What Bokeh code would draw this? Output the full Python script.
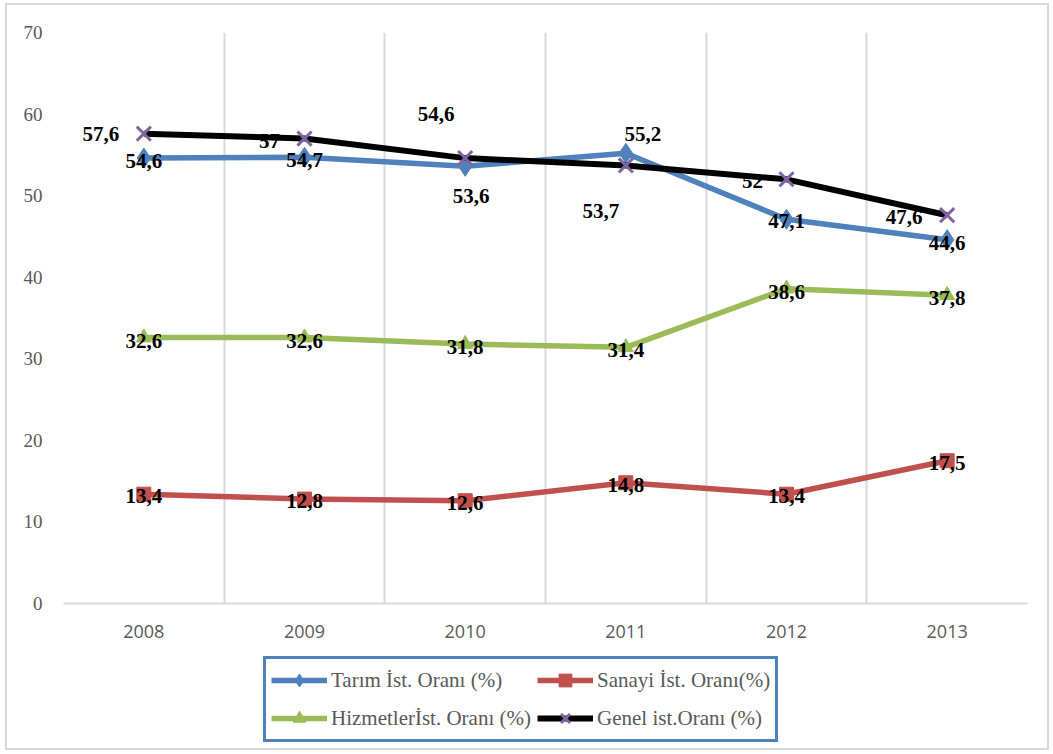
from bokeh.plotting import figure
from bokeh.layouts import column
from bokeh.models import (ColumnDataSource, FixedTicker, Legend, LegendItem, Range1d)
from bokeh.core.properties import value
from bokeh.embed import file_html
from bokeh.resources import INLINE

# ---- data ----
years = ["2008", "2009", "2010", "2011", "2012", "2013"]
tarim = [54.6, 54.7, 53.6, 55.2, 47.1, 44.6]
sanayi = [13.4, 12.8, 12.6, 14.8, 13.4, 17.5]
hizmet = [32.6, 32.6, 31.8, 31.4, 38.6, 37.8]
genel = [57.6, 57.0, 54.6, 53.7, 52.0, 47.6]
labels_text = {
    "tarim": ["54,6", "54,7", "53,6", "55,2", "47,1", "44,6"],
    "sanayi": ["13,4", "12,8", "12,6", "14,8", "13,4", "17,5"],
    "hizmet": ["32,6", "32,6", "31,8", "31,4", "38,6", "37,8"],
    "genel": ["57,6", "57", "54,6", "53,7", "52", "47,6"],
}
series_names = ["Tarım İst. Oranı (%)", "Sanayi İst. Oranı(%)",
                "Hizmetlerİst. Oranı (%)", "Genel ist.Oranı (%)"]
y_ticks = [0, 10, 20, 30, 40, 50, 60, 70]

# ---- style (label offsets in screen px) ----
offs = {
    "tarim": ([0, 0, 6, 17, 0, 0], [3, 3, 30, -19, 2, 3]),
    "sanayi": ([0, 0, 0, 0, 0, 0], [2, 2, 2, 2, 2, 2]),
    "hizmet": ([0, 0, 0, 0, 0, 0], [3, 3, 3, 3, 3, 3]),
    "genel": ([-43, -35, -29, -25, -34, -43], [0, 2, -44, 46, 2, 2]),
}
colors = {"tarim": "#4F81BD", "sanayi": "#C0504D", "hizmet": "#9BBB59", "genel": "#000000"}
marker_styles = {
    "tarim": dict(marker="diamond", size=20, fill_color="#4F81BD", line_color="#4F81BD"),
    "sanayi": dict(marker="square", size=14, fill_color="#C0504D", line_color="#C0504D"),
    "hizmet": dict(marker="triangle", size=15, fill_color="#9BBB59", line_color="#9BBB59"),
    "genel": dict(marker="x", size=20, line_color="#8064A2", line_width=3),
}
line_widths = {"tarim": 5.5, "sanayi": 5.5, "hizmet": 5.5, "genel": 6}

xs = list(range(len(years)))
values = {"tarim": tarim, "sanayi": sanayi, "hizmet": hizmet, "genel": genel}

p = figure(frame_width=964, frame_height=571, output_backend="svg", toolbar_location=None,
           x_range=Range1d(-0.5, len(years) - 0.5), y_range=Range1d(0, 70),
           min_border_left=56, min_border_right=20, min_border_top=27,
           min_border_bottom=45)
p.outline_line_color = None
p.background_fill_color = "white"
p.border_fill_color = "white"

# axes
p.xaxis.ticker = FixedTicker(ticks=xs)
p.xaxis.major_label_overrides = {i: y for i, y in enumerate(years)}
p.xaxis.major_label_text_font = "Open Sans"
p.xaxis.major_label_text_font_size = "18px"
p.xaxis.major_label_text_color = "#595959"
p.xaxis.major_label_standoff = 15
p.xaxis.major_tick_line_color = None
p.xaxis.minor_tick_line_color = None
p.xaxis.axis_line_color = "#D9D9D9"
p.xaxis.axis_line_width = 2

p.yaxis.ticker = FixedTicker(ticks=y_ticks)
p.yaxis.major_label_text_font = "Liberation Serif"
p.yaxis.major_label_text_font_size = "19px"
p.yaxis.major_label_text_color = "#595959"
p.yaxis.major_label_standoff = 15
p.yaxis.major_tick_line_color = None
p.yaxis.minor_tick_line_color = None
p.yaxis.axis_line_color = None

p.ygrid.grid_line_color = None
p.xgrid.ticker = FixedTicker(ticks=[i - 0.5 for i in range(len(years) + 1)])
p.xgrid.grid_line_color = "#D9D9D9"
p.xgrid.grid_line_width = 2


def labels(key):
    src = ColumnDataSource(dict(x=xs, y=values[key], t=labels_text[key],
                                xo=offs[key][0], yo=offs[key][1]))
    p.text(x="x", y="y", text="t", x_offset="xo", y_offset="yo", source=src,
           text_font=value("Liberation Serif"), text_font_style="bold",
           text_font_size="21px", text_color="black",
           text_align="center", text_baseline="middle")


def series(fig, key):
    ln = fig.line(xs, values[key], line_color=colors[key], line_width=line_widths[key])
    mk = fig.scatter(xs, values[key], **marker_styles[key])
    return ln, mk


series(p, "tarim")
series(p, "sanayi")
series(p, "hizmet")
labels("tarim")
labels("sanayi")
labels("hizmet")
labels("genel")
series(p, "genel")

# ---- legend in its own strip below the chart (its frame is aligned with the chart's) ----
lf = figure(width=1040, height=100, output_backend="svg", toolbar_location=None,
            x_axis_location=None, y_axis_location=None,
            min_border_left=0, min_border_right=0, min_border_top=0, min_border_bottom=0,
            x_range=Range1d(-0.5, len(years) - 0.5), y_range=Range1d(-200, -100))
lf.outline_line_color = None
lf.grid.visible = False
leg_items = {}
for key, name in zip(["tarim", "sanayi", "hizmet", "genel"], series_names):
    ln, mk = series(lf, key)  # off-range copies, only used for legend glyphs
    leg_items[key] = LegendItem(label=name, renderers=[ln, mk])

# column-major fill: column 1 = Tarım, Hizmet; column 2 = Sanayi, Genel
legend = Legend(items=[leg_items["tarim"], leg_items["hizmet"],
                       leg_items["sanayi"], leg_items["genel"]],
                ncols=2, location=(200, 6))
legend.label_text_font = "Liberation Serif"
legend.label_text_font_size = "21px"
legend.label_text_color = "#595959"
legend.glyph_width = 56
legend.glyph_height = 32
legend.label_standoff = 4
legend.spacing = 6
legend.padding = 5
legend.margin = 0
legend.border_line_color = "#4F81BD"
legend.border_line_alpha = 1.0
legend.border_line_width = 3
legend.background_fill_alpha = 1
lf.add_layout(legend, "center")

layout = column(p, lf, spacing=0)
layout.styles = {"border": "2px solid #D9D9D9", "margin": "3px 0px 0px 5px"}

open("out.html", "w").write(file_html(layout, INLINE))
